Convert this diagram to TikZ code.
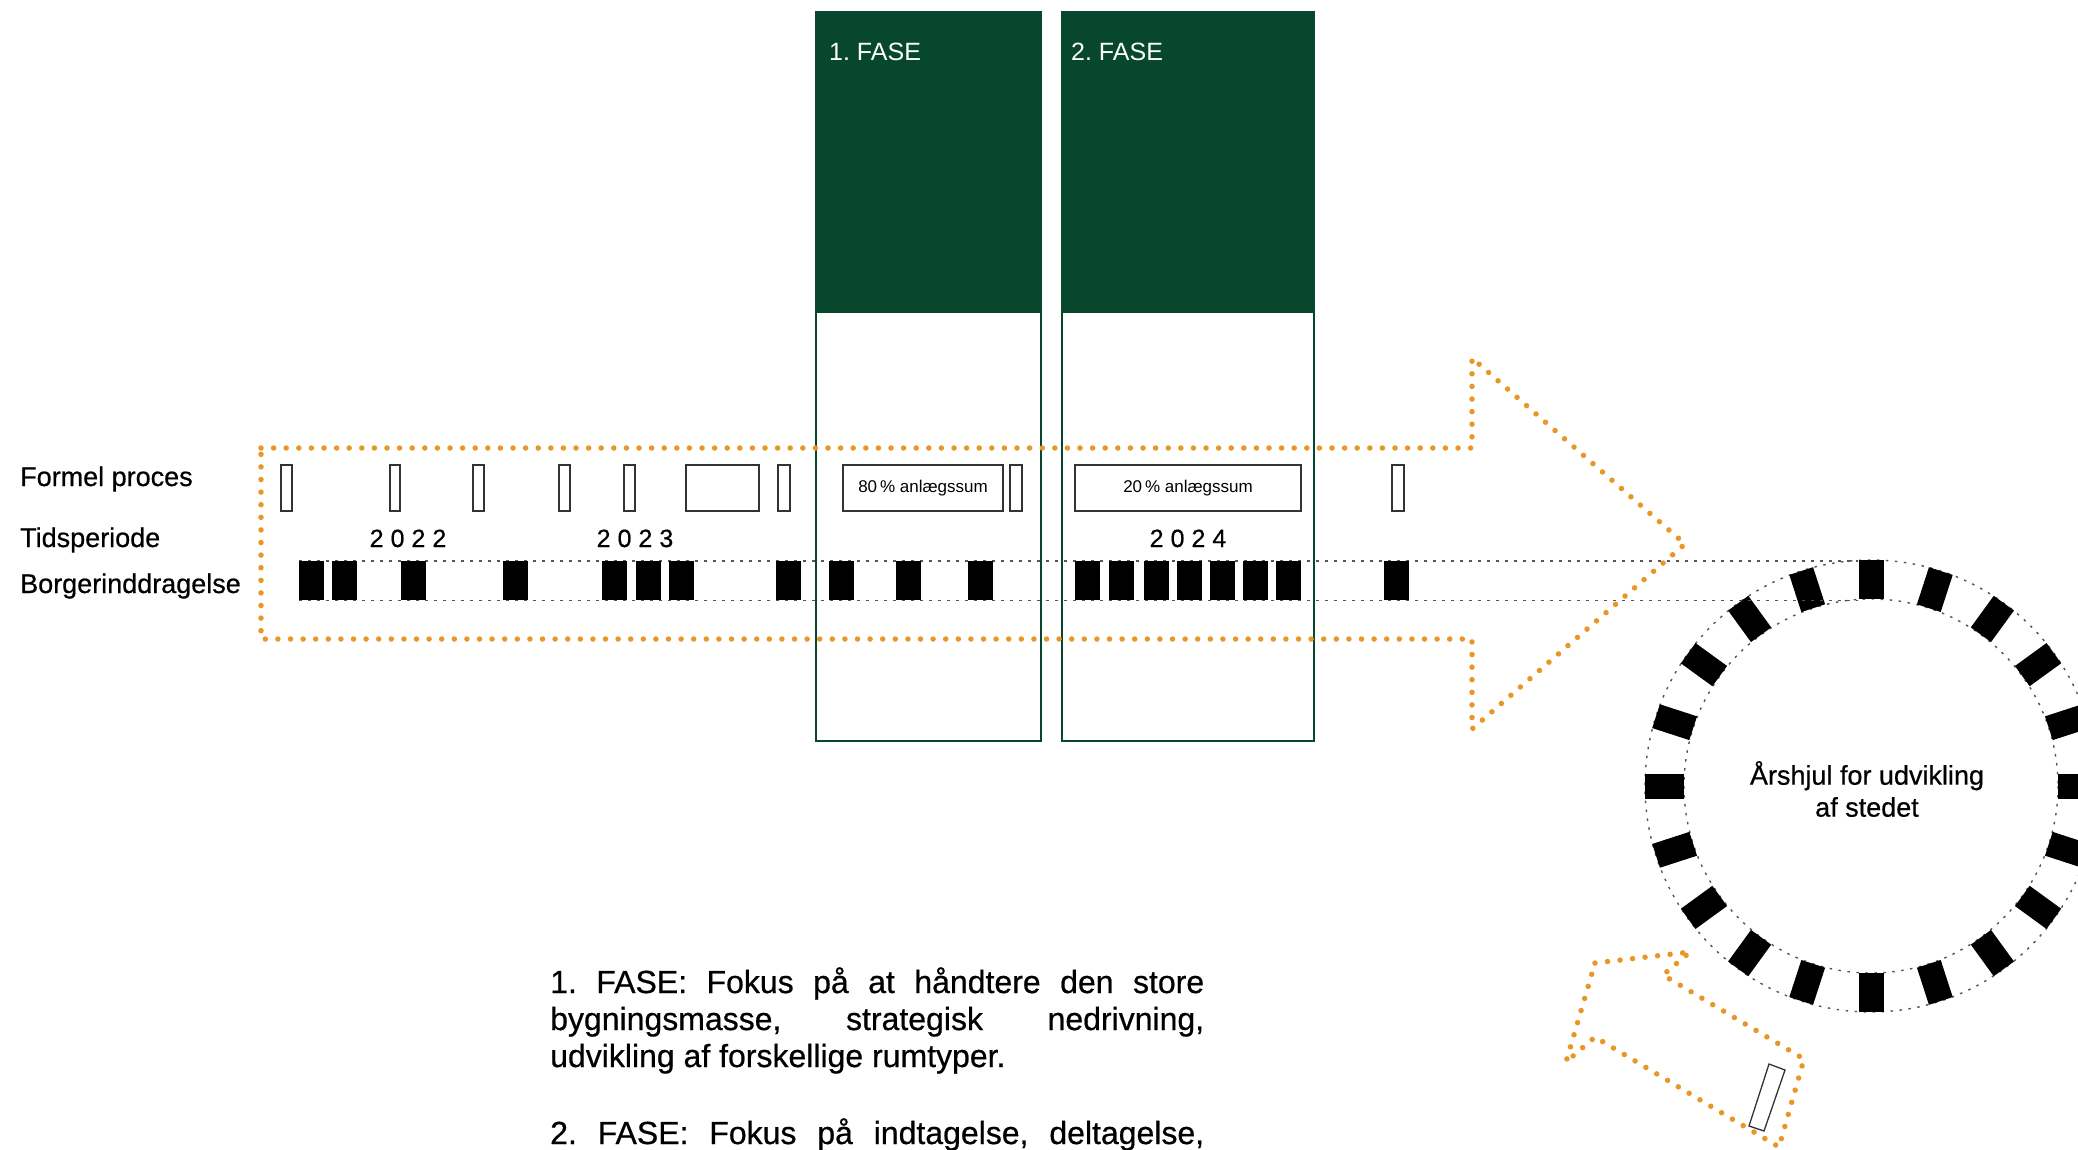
\documentclass[tikz,border=0pt]{standalone}
\usepackage{fontspec}
\setmainfont{Liberation Sans}
\newfontfamily\medfont{Liberation Sans}[FakeBold=0.6]
\usepackage{xcolor}
\usetikzlibrary{calc}

\definecolor{fasegreen}{RGB}{6,71,45}
\definecolor{dotorange}{RGB}{232,150,38}
\definecolor{dotgray}{RGB}{85,85,85}

\newcommand\lblfont{\medfont\fontsize{27}{32}\selectfont}
\newcommand\yeartext[4]{#1\kern7pt#2\kern7pt#3\kern7pt#4}
\frenchspacing

\begin{document}
\begin{tikzpicture}[x=1pt, y=-1pt,
	odot/.style={dotorange, line width=5.5pt, line cap=round, dash pattern=on 0pt off 12.6pt},
	gdot/.style={dotgray, line width=1.4pt, dash pattern=on 2.5pt off 6.5pt},
	fbox/.style={draw=black!80, line width=1.3pt},
	blk/.style={fill=black, minimum width=25pt, minimum height=39pt, inner sep=0pt},
	fase/.style={draw=fasegreen, line width=2.5pt},
	lbl/.style={anchor=base west, font=\lblfont, inner sep=0pt}]

	\useasboundingbox (0,0) rectangle (2078,1149);
	\clip (0,0) rectangle (2078,1149);

	% the two phases
	\fill[fasegreen] (816,12) rectangle (1041,313);
	\draw[fase] (816,12) rectangle (1041,741);
	\fill[fasegreen] (1062,12) rectangle (1314,313);
	\draw[fase] (1062,12) rectangle (1314,741);
	\node[anchor=base west, white, font=\fontsize{25}{30}\selectfont, inner sep=0pt] (f1) at (829,60) {1. FASE};
	\node[anchor=base west, white, font=\fontsize{25}{30}\selectfont, inner sep=0pt] (f2) at (1071,60) {2. FASE};

	% row labels
	\node[lbl] (formel) at (20,486) {Formel proces};
	\node[lbl] (tid) at (20,547) {Tidsperiode};
	\node[lbl] (borger) at (20,593) {Borgerinddragelse};

	% years
	\node[anchor=base, font=\medfont\fontsize{25}{30}\selectfont, inner sep=0pt] (y22) at (408,547) {\yeartext2022};
	\node[anchor=base, font=\medfont\fontsize{25}{30}\selectfont, inner sep=0pt] (y23) at (635,547) {\yeartext2023};
	\node[anchor=base, font=\medfont\fontsize{25}{30}\selectfont, inner sep=0pt] (y24) at (1188,547) {\yeartext2024};

	% formel proces
	\foreach \a/\b in {281/292, 390/400, 473/484, 559/570, 624/635, 686/759, 778/790, 1010/1022, 1392/1404}
		\draw[fbox] (\a,465) rectangle (\b,511);
	\node[fbox, minimum width=160pt, minimum height=46pt, font=\fontsize{17}{20}\selectfont] (p80) at (923,488) {80\,\% anlægssum};
	\node[fbox, minimum width=226pt, minimum height=46pt, font=\fontsize{17}{20}\selectfont] (p20) at (1188,488) {20\,\% anlægssum};

	% the wheel
	\coordinate (C) at (1871,786);
	\draw[gdot] (C) circle[radius=226];
	\draw[gdot] (C) circle[radius=187];
	\foreach \k in {0,...,19}
		\node[blk, rotate={-\k*18-90}] (r\k) at ($(C)+(\k*18:206.5)$) {};
	\node[align=center, font=\medfont\fontsize{27}{32}\selectfont] (hjul) at (1867,789) {Årshjul for udvikling\\af stedet};

	% borgerinddragelse
	\foreach \x [count=\i] in {299,332,401,503,602,636,669,776,829,896,968,1075,1109,1144,1177,1210,1243,1276,1384}
		\node[blk, anchor=north west] (b\i) at (\x,561) {};
	\draw[gdot] (b1.north west) -- (b1.north west -| r15.north west);
	\draw[gdot] (b1.south west) -- (b1.south west -| r15.north west);
	\foreach \x [count=\i] in {299,332,401,503,602,636,669,776,829,896,968,1075,1109,1144,1177,1210,1243,1276,1384}
		\node[blk, anchor=north west] at (\x,561) {};

	% big arrow
	\draw[odot] (261,448) -- (1472,448) -- (1472,358) -- (1685,544) -- (1472,729) -- (1472,639) -- (261,639) -- cycle;

	% small arrow
	\draw[odot] (1595,963) -- (1690,952) -- (1663,975) -- (1804,1059) -- (1779,1147) -- (1595,1037) -- (1566,1062) -- cycle;
	\draw[black!80, line width=1.3pt] (1769,1064) -- (1785,1070) -- (1764,1131) -- (1749,1126) -- cycle;

	% text
	\node[anchor=base west, align=left, inner sep=0pt, font=\medfont\fontsize{32}{37}\selectfont] (txt) at (550,1144)
		{\makebox[654pt][s]{1. FASE: Fokus på at håndtere den store}\\
		 \makebox[654pt][s]{bygningsmasse, strategisk nedrivning,}\\
		 udvikling af forskellige rumtyper.\\[40pt]
		 \makebox[654pt][s]{2. FASE: Fokus på indtagelse, deltagelse,}};
\end{tikzpicture}
\end{document}
